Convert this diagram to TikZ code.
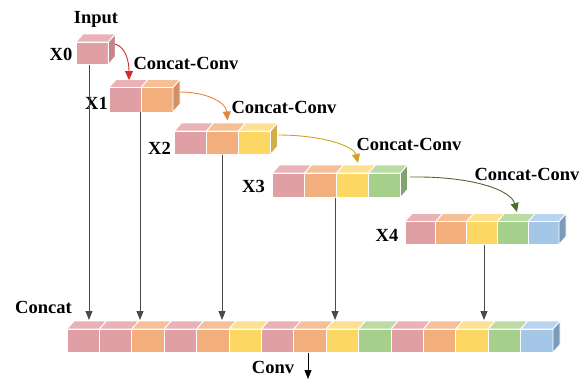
\documentclass[tikz,border=0pt]{standalone}
\usepackage{fontspec}
\setmainfont{Liberation Serif}
\usetikzlibrary{arrows.meta}
\definecolor{pinkF}{HTML}{E09EA5}\definecolor{pinkT}{HTML}{E9B2B7}\definecolor{pinkS}{HTML}{C6858C}
\definecolor{orangeF}{HTML}{F2AE7C}\definecolor{orangeT}{HTML}{F5BF98}\definecolor{orangeS}{HTML}{D39066}
\definecolor{yellowF}{HTML}{FDD764}\definecolor{yellowT}{HTML}{FDE190}\definecolor{yellowS}{HTML}{D2AE4A}
\definecolor{greenF}{HTML}{A6CF8B}\definecolor{greenT}{HTML}{BADBA3}\definecolor{greenS}{HTML}{7FA56A}
\definecolor{blueF}{HTML}{A4C7E8}\definecolor{blueT}{HTML}{B9D4EE}\definecolor{blueS}{HTML}{7C9BBB}
\definecolor{arRed}{HTML}{D42A2A}\definecolor{arOrange}{HTML}{E8853C}
\definecolor{arGold}{HTML}{D4A020}\definecolor{arGreen}{HTML}{4F6B2E}
\definecolor{lineGray}{HTML}{4A4A4A}
\newcommand\dxx{7}
\newcommand\dyy{8}
% #1 x, #2 y, #3 width, #4 height, #5 colour
\newcommand\cubecell[5]{%
  \filldraw[#5T, draw=white, line width=0.9pt] (#1,#2) -- ++(#3,0) -- ++(\dxx,-\dyy) -- ++(-#3,0) -- cycle;
  \filldraw[#5F, draw=white, line width=0.9pt] (#1,#2) rectangle ++(#3,#4);
}
\newcommand\cubeside[4]{% x(right edge), y, height, colour
  \filldraw[#4S, draw=white, line width=0.9pt] (#1,#2) -- ++(\dxx,-\dyy) -- ++(0,#3) -- ++(-\dxx,\dyy) -- cycle;
}
% #1 x0, #2 y0, #3 pitch, #4 height, #5 colour list, #6 count
\newcommand\cuberow[6]{%
  \foreach \c [count=\i from 0] in {#5} {
    \pgfmathsetmacro\xx{#1+\i*#3}
    \cubecell{\xx}{#2}{#3}{#4}{\c}
  }
  \foreach \c [count=\i from 0] in {#5} {
    \ifnum\i=\numexpr#6-1\relax
      \pgfmathsetmacro\xx{#1+(\i+1)*#3}
      \cubeside{\xx}{#2}{#4}{\c}
    \fi
  }
}
\tikzset{
  lbl/.style={font=\fontsize{18.5}{20}\selectfont\bfseries, inner sep=0pt},
  vline/.style={draw=lineGray, line width=0.8pt, -{Triangle[length=9pt,width=7pt]}},
  cc/.style={line width=0.9pt, -{Triangle[length=9pt,width=8pt]}}
}
\begin{document}
\begin{tikzpicture}[x=1pt,y=-1pt]
\useasboundingbox (0,0) rectangle (587,381);
% rows of cubes
\cuberow{76}{42}{32.4}{22.5}{pink}{1}
\cuberow{109}{87.5}{32}{24.5}{pink,orange}{2}
\cuberow{174.5}{131}{32}{23.5}{pink,orange,yellow}{3}
\cuberow{272.5}{173}{32}{24.5}{pink,orange,yellow,green}{4}
\cuberow{405}{221.5}{30.8}{23}{pink,orange,yellow,green,blue}{5}
\cuberow{67}{329}{32.4}{23.5}{pink,pink,orange,pink,orange,yellow,pink,orange,yellow,green,pink,orange,yellow,green,blue}{15}
% named points
\coordinate (x0b) at (89,64.5);
\coordinate (x1b) at (140,112);
\coordinate (x2b) at (222,154.5);
\coordinate (x3b) at (335,197.5);
\coordinate (x4b) at (484,244.5);
\coordinate (c0) at (89,320);
\coordinate (c1) at (140,320);
\coordinate (c2) at (222,320);
\coordinate (c3) at (335,320);
\coordinate (c4) at (484,320);
\coordinate (convs) at (308,352.5);
\coordinate (conve) at (308,379);
\coordinate (x0s) at (115,44);
\coordinate (x1t) at (129,80);
\coordinate (x1s) at (180,92);
\coordinate (x2t) at (227.5,120.5);
\coordinate (x2s) at (278,135);
\coordinate (x3t) at (358,163);
\coordinate (x3s) at (410,177);
\coordinate (x4t) at (517,212);
% labels
\node[lbl] (input) at (96,19) {Input};
\node[lbl] (l0) at (61,54) {X0};
\node[lbl] (l1) at (96.5,103) {X1};
\node[lbl] (l2) at (159.5,148.5) {X2};
\node[lbl] (l3) at (253.5,186.5) {X3};
\node[lbl] (l4) at (387,235) {X4};
\node[lbl] (cc1) at (186,63) {Concat-Conv};
\node[lbl] (cc2) at (284,107) {Concat-Conv};
\node[lbl] (cc3) at (409,144) {Concat-Conv};
\node[lbl] (cc4) at (527,174) {Concat-Conv};
\node[lbl] (concat) at (43.5,307) {Concat};
\node[lbl] (conv) at (273,367) {Conv};
% vertical connectors
\draw[vline] (x0b) -- (c0);
\draw[vline] (x1b) -- (c1);
\draw[vline] (x2b) -- (c2);
\draw[vline] (x3b) -- (c3);
\draw[vline] (x4b) -- (c4);
\draw[vline, draw=black] (convs) -- (conve);
% curved concat-conv arrows
\draw[cc, arRed] (x0s) .. controls (126,47) and (129,62) .. (x1t);
\draw[cc, arOrange] (x1s) .. controls (206,92) and (226,102) .. (x2t);
\draw[cc, arGold] (x2s) .. controls (322,135) and (354,146) .. (x3t);
\draw[cc, arGreen] (x3s) .. controls (472,176) and (511,190) .. (x4t);
\end{tikzpicture}
\end{document}
